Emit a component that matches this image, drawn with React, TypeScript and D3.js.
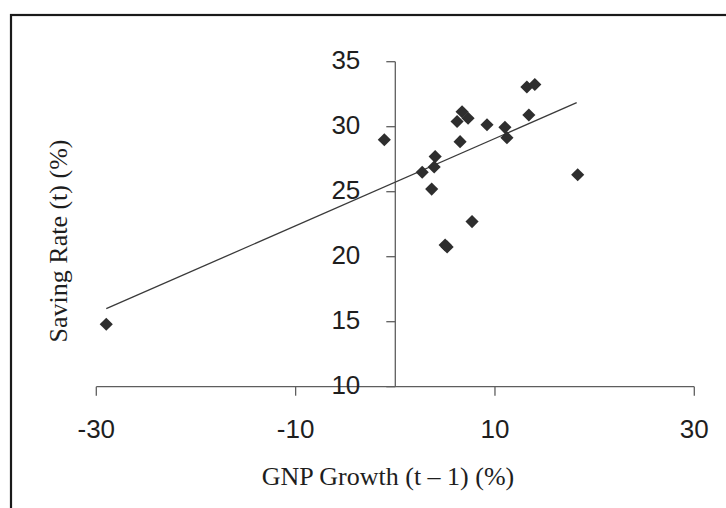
import React from "react";
import * as d3 from "d3";

const growth = [-29.0, -1.1, 2.7, 4.0, 3.9, 3.65, 5.0, 5.2, 6.2, 6.5, 6.7, 7.3, 7.7, 9.2, 11.0, 11.2, 13.2, 14.0, 13.4, 18.3];
const saving = [14.8, 29.0, 26.5, 27.7, 26.9, 25.2, 20.9, 20.75, 30.4, 28.85, 31.15, 30.65, 22.7, 30.15, 29.95, 29.15, 33.05, 33.25, 30.9, 26.3];
const xTicks = [-30, -10, 10, 30];
const yTicks = [10, 15, 20, 25, 30, 35];
const trendX = [-29, 18.2];
const trendY = [16.0, 31.85];

const W = 726;
const H = 508;

export default function App() {
  const x = d3.scaleLinear().domain([-30, 30]).range([96.3, 694.3]);
  const y = d3.scaleLinear().domain([10, 35]).range([386.7, 61.7]);
  const x0 = x(0);
  const yBase = y(10);
  const line = d3.line<number>().x((d) => x(trendX[d])).y((d) => y(trendY[d]));
  const diamond = d3.symbol().type(d3.symbolDiamond2).size(110)();
  const axisColor = "#5e5e5e";
  const textColor = "#1e1e1e";
  return (
    <svg
      width={W}
      height={H}
      style={{ position: "absolute", left: 0, top: 0, background: "#fff" }}
    >
      <rect x={0} y={0} width={W} height={H} fill="#fff" />
      <rect x={11} y={15} width={W + 50} height={H + 50} fill="none" stroke="#1a1a1a" strokeWidth={2.2} />
      {/* x axis */}
      <line x1={x(-30)} x2={x(30)} y1={yBase} y2={yBase} stroke={axisColor} strokeWidth={1.3} />
      {xTicks.map((t) => (
        <g key={"xt" + t}>
          <line x1={x(t)} x2={x(t)} y1={yBase} y2={yBase + 9} stroke={axisColor} strokeWidth={1.3} />
          <text
            x={x(t)}
            y={yBase + 51}
            textAnchor="middle"
            fontFamily="'Liberation Sans', Arial, sans-serif"
            fontSize={26}
            fill={textColor}
          >
            {t}
          </text>
        </g>
      ))}
      {/* y axis */}
      <line x1={x0} x2={x0} y1={y(35)} y2={yBase} stroke={axisColor} strokeWidth={1.3} />
      {yTicks.map((t) => (
        <g key={"yt" + t}>
          <line x1={x0 - 9} x2={x0} y1={y(t)} y2={y(t)} stroke={axisColor} strokeWidth={1.3} />
          <text
            x={x0 - 35}
            y={y(t) + 7}
            textAnchor="end"
            fontFamily="'Liberation Sans', Arial, sans-serif"
            fontSize={26}
            fill={textColor}
          >
            {t}
          </text>
        </g>
      ))}
      {/* trend line */}
      <path d={line([0, 1]) || ""} fill="none" stroke="#3a3a3a" strokeWidth={1.3} />
      {/* points */}
      {growth.map((g, i) => (
        <path
          key={"p" + i}
          d={diamond || ""}
          transform={`translate(${x(g)},${y(saving[i])})`}
          fill="#2e2e2e"
        />
      ))}
      {/* titles */}
      <text
        x={388}
        y={485}
        textAnchor="middle"
        fontFamily="'Liberation Serif', 'Times New Roman', serif"
        fontSize={26}
        fill={textColor}
      >
        GNP Growth (t – 1) (%)
      </text>
      <text
        transform={`translate(67,241) rotate(-90)`}
        textAnchor="middle"
        fontFamily="'Liberation Serif', 'Times New Roman', serif"
        fontSize={26}
        fill={textColor}
      >
        Saving Rate (t) (%)
      </text>
    </svg>
  );
}
